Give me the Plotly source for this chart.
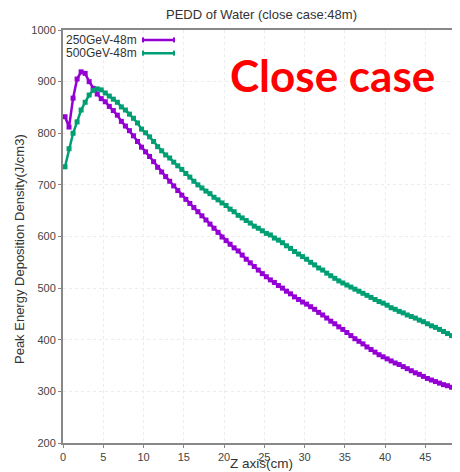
import plotly.graph_objects as go

z_cm = [0.25, 0.75, 1.25, 1.75, 2.25, 2.75, 3.25, 3.75, 4.25, 4.75,
        5.25, 5.75, 6.25, 6.75, 7.25, 7.75, 8.25, 8.75, 9.25, 9.75,
        10.25, 10.75, 11.25, 11.75, 12.25, 12.75, 13.25, 13.75, 14.25, 14.75,
        15.25, 15.75, 16.25, 16.75, 17.25, 17.75, 18.25, 18.75, 19.25, 19.75,
        20.25, 20.75, 21.25, 21.75, 22.25, 22.75, 23.25, 23.75, 24.25, 24.75,
        25.25, 25.75, 26.25, 26.75, 27.25, 27.75, 28.25, 28.75, 29.25, 29.75,
        30.25, 30.75, 31.25, 31.75, 32.25, 32.75, 33.25, 33.75, 34.25, 34.75,
        35.25, 35.75, 36.25, 36.75, 37.25, 37.75, 38.25, 38.75, 39.25, 39.75,
        40.25, 40.75, 41.25, 41.75, 42.25, 42.75, 43.25, 43.75, 44.25, 44.75,
        45.25, 45.75, 46.25, 46.75, 47.25, 47.75, 48.25, 48.75, 49.25, 49.75]

pedd_250 = [832, 812, 868, 905, 919, 916, 900, 887, 876, 867,
            861, 852, 844, 835, 823, 814, 805, 795, 784, 773,
            764, 755, 745, 734, 725, 716, 707, 698, 689, 680,
            672, 664, 656, 648, 640, 632, 624, 616, 608, 599,
            592, 585, 578, 572, 564, 556, 549, 542, 535, 528,
            522, 516, 511, 505, 500, 494, 489, 483, 478, 473,
            469, 464, 459, 453, 448, 442, 436, 431, 425, 420,
            414, 408, 402, 397, 392, 386, 381, 376, 371, 367,
            363, 359, 355, 352, 348, 344, 340, 336, 333, 329,
            325, 322, 319, 316, 313, 311, 308, 305, 302, 299]

pedd_500 = [735, 770, 800, 822, 845, 860, 874, 883, 886, 884,
            878, 872, 866, 860, 851, 845, 837, 829, 820, 808,
            801, 793, 784, 774, 766, 758, 752, 744, 737, 730,
            722, 715, 707, 700, 694, 688, 683, 676, 671, 665,
            660, 653, 648, 641, 636, 631, 626, 620, 616, 611,
            606, 603, 597, 593, 588, 582, 577, 571, 566, 561,
            556, 550, 545, 539, 535, 529, 524, 519, 514, 510,
            506, 502, 498, 494, 490, 486, 482, 478, 474, 471,
            467, 462, 459, 455, 452, 448, 445, 442, 438, 435,
            431, 427, 424, 420, 416, 412, 408, 404, 401, 397]

series_names = ["250GeV-48m", "500GeV-48m"]
series_colors = ["#9400d3", "#009e73"]
x_ticks = [0, 5, 10, 15, 20, 25, 30, 35, 40, 45]
y_ticks = [200, 300, 400, 500, 600, 700, 800, 900, 1000]

FONT = "Liberation Sans, Arial, sans-serif"

fig = go.Figure()
for name, ys, col in zip(series_names, [pedd_250, pedd_500], series_colors):
    fig.add_trace(go.Scatter(
        x=z_cm, y=ys, name=name, mode="lines+markers",
        line=dict(color=col, width=2.5),
        marker=dict(color=col, size=5, symbol="square"),
        showlegend=False, cliponaxis=True,
    ))

# legend drawn gnuplot style (text left of sample)
leg_y = [0.976, 0.944]
for name, col, yy in zip(series_names, series_colors, leg_y):
    fig.add_annotation(xref="paper", yref="paper", x=0.003, y=yy,
                       text=name, showarrow=False, xanchor="left", yanchor="middle",
                       font=dict(family=FONT, size=12, color="#333"))
    fig.add_shape(type="line", xref="paper", yref="paper", x0=0.2015, x1=0.2796,
                  y0=yy, y1=yy, line=dict(color=col, width=2.5))
    for xc in (0.2015, 0.2796):
        fig.add_shape(type="line", xref="paper", yref="paper", x0=xc, x1=xc,
                      y0=yy - 0.006, y1=yy + 0.006, line=dict(color=col, width=2))

fig.add_annotation(xref="paper", yref="paper", x=0.68, y=0.891,
                   text="<b>Close case</b>", showarrow=False,
                   xanchor="center", yanchor="middle",
                   font=dict(family="Lato, Open Sans, sans-serif", size=44, color="#ff0000"))

# axis titles
fig.add_annotation(xref="paper", yref="paper", x=0.5, y=-0.05,
                   text="Z axis(cm)", showarrow=False, xanchor="center", yanchor="middle",
                   font=dict(family=FONT, size=13.5, color="#333"))
fig.add_annotation(xref="paper", yref="paper", x=-0.108, y=0.47,
                   text="Peak Energy Deposition Density(J/cm3)", showarrow=False,
                   textangle=-90, xanchor="center", yanchor="middle",
                   font=dict(family=FONT, size=13, color="#333"))

fig.update_layout(
    width=452, height=464,
    margin=dict(l=55, r=0, t=22, b=29, autoexpand=False),
    paper_bgcolor="white", plot_bgcolor="white",
    title=dict(text="PEDD of Water (close case:48m)", x=0.5, xref="paper",
               xanchor="center", y=1 - 6 / 464, yanchor="middle",
               font=dict(family=FONT, size=13, color="#333")),
    font=dict(family=FONT, color="#444"),
)
fig.update_xaxes(
    range=[0, 49.3], tickvals=x_ticks, ticks="outside", ticklen=3,
    tickcolor="#888", showline=True, linecolor="#888", linewidth=2, mirror=True,
    showgrid=True, gridcolor="#ececec", griddash="dot", gridwidth=1,
    zeroline=False, tickfont=dict(size=11, color="#444"), automargin=False,
)
fig.update_yaxes(
    range=[200, 1000], tickvals=y_ticks, ticks="outside", ticklen=3,
    tickcolor="#888", showline=True, linecolor="#888", linewidth=2, mirror=True,
    showgrid=True, gridcolor="#ececec", griddash="dot", gridwidth=1,
    zeroline=False, tickfont=dict(size=11, color="#444"), automargin=False,
)

fig.write_html("out.html")
